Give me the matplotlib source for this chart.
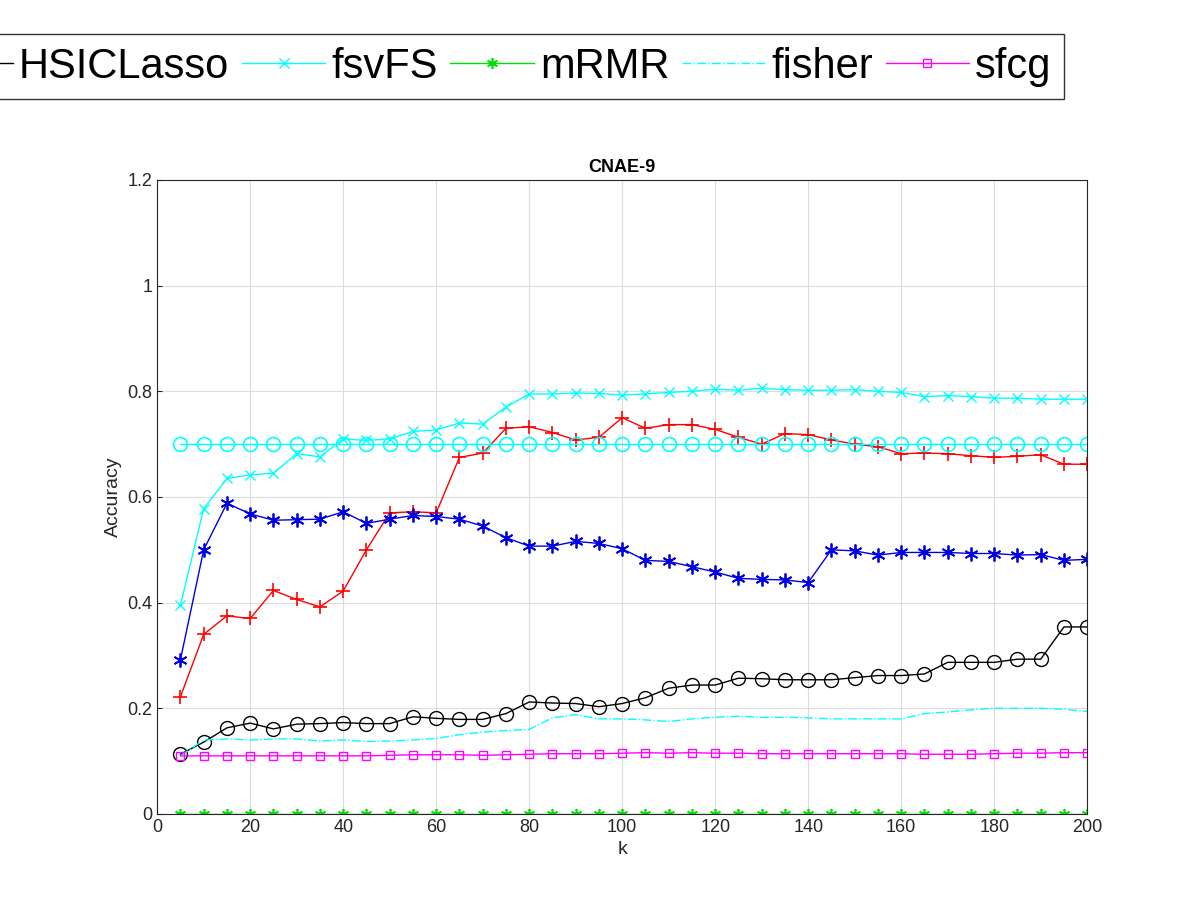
import matplotlib
matplotlib.use("Agg")
import matplotlib.pyplot as plt
import numpy as np

k = list(range(5, 205, 5))
lsfs = [0.222,0.34,0.375,0.37,0.423,0.406,0.392,0.422,0.5,0.57,0.572,0.57,0.675,0.683,0.73,0.733,0.722,0.708,0.713,0.75,0.73,0.737,0.737,0.728,0.713,0.7,0.72,0.718,0.708,0.70,0.695,0.682,0.683,0.682,0.678,0.675,0.677,0.68,0.662,0.662]
mcfs = [0.292,0.5,0.588,0.568,0.556,0.557,0.558,0.572,0.55,0.558,0.565,0.563,0.558,0.545,0.523,0.507,0.507,0.516,0.512,0.502,0.48,0.478,0.468,0.458,0.446,0.444,0.443,0.438,0.5,0.498,0.49,0.495,0.495,0.495,0.493,0.493,0.49,0.491,0.48,0.482]
udfs = [0.7]*40
hsic = [0.113,0.136,0.163,0.172,0.161,0.17,0.171,0.173,0.171,0.171,0.184,0.181,0.179,0.179,0.19,0.212,0.21,0.209,0.203,0.209,0.22,0.238,0.244,0.244,0.257,0.256,0.254,0.254,0.254,0.258,0.262,0.262,0.265,0.287,0.287,0.287,0.293,0.293,0.354,0.354]
fsvfs = [0.395,0.578,0.635,0.642,0.645,0.682,0.676,0.71,0.707,0.71,0.724,0.727,0.74,0.738,0.77,0.795,0.795,0.797,0.796,0.793,0.795,0.798,0.8,0.804,0.802,0.806,0.803,0.802,0.802,0.803,0.8,0.798,0.79,0.792,0.79,0.787,0.787,0.785,0.785,0.785]
mrmr = [0.0]*40
fisher = [0.11,0.14,0.142,0.14,0.142,0.142,0.138,0.14,0.137,0.138,0.14,0.143,0.15,0.155,0.158,0.16,0.182,0.188,0.18,0.18,0.178,0.175,0.18,0.183,0.185,0.183,0.183,0.182,0.18,0.18,0.18,0.18,0.19,0.193,0.197,0.2,0.2,0.2,0.198,0.194]
sfcg = [0.11,0.11,0.11,0.11,0.11,0.11,0.11,0.11,0.11,0.111,0.112,0.112,0.112,0.111,0.112,0.113,0.114,0.114,0.114,0.115,0.116,0.115,0.116,0.115,0.115,0.114,0.114,0.114,0.114,0.114,0.114,0.114,0.113,0.113,0.113,0.114,0.115,0.115,0.116,0.116]

plt.rcParams['font.family'] = ['Liberation Sans', 'DejaVu Sans']
fig = plt.figure(figsize=(12, 9), dpi=100)
ax = fig.add_axes([0.131, 0.0956, 0.775, 0.7044])
lw = 1.0
ast = (6, 2, 0)
ax.plot(k, lsfs, '-+', color='red', lw=lw, ms=10, mew=1.2, label='LSFS')
ax.plot(k, mcfs, '-', marker=ast, color='#0000e0', lw=lw, ms=10, mew=1.3, label='MCFS')
ax.plot(k, udfs, '-o', color='cyan', lw=lw, ms=10, mfc='none', mew=1.2, label='UDFS')
ax.plot(k, hsic, '-o', color='black', lw=lw, ms=10, mfc='none', mew=1.0, label='HSICLasso')
ax.plot(k, fsvfs, '-x', color='cyan', lw=lw, ms=7, mew=1.0, label='fsvFS')
ax.plot(k, mrmr, '-', marker=ast, color='#00e000', lw=lw, ms=8, mew=1.2, label='mRMR')
ax.plot(k, fisher, '-.', color='cyan', lw=lw, label='fisher')
ax.plot(k, sfcg, '-s', color='magenta', lw=lw, ms=6, mfc='none', mew=1.0, label='sfcg')

ax.set_xlim(0, 200)
ax.set_ylim(0, 1.2)
ax.set_xticks(range(0, 201, 20))
ax.set_yticks([0, 0.2, 0.4, 0.6, 0.8, 1, 1.2])
ax.set_yticklabels(['0', '0.2', '0.4', '0.6', '0.8', '1', '1.2'])
ax.grid(True, color='#dcdcdc', lw=0.8)
ax.set_axisbelow(True)
for s in ax.spines.values():
    s.set_color('#262626')
ax.tick_params(direction='in', labelsize=13, color='#262626', labelcolor='#262626')
ax.set_xlabel('k', fontsize=14, color='#262626')
ax.set_ylabel('Accuracy', fontsize=14, color='#262626')
ax.set_title('CNAE-9', fontsize=13, fontweight='bold')

leg = fig.legend(loc='lower right', bbox_to_anchor=(1085/1200, 1-120/900), ncol=8,
                 fontsize=30, frameon=True, fancybox=False, edgecolor='black',
                 handlelength=2.0, handletextpad=0.15, columnspacing=0.3, borderpad=0.3)
leg.get_frame().set_linewidth(1.0)
fig.savefig('out.png', dpi=100)
